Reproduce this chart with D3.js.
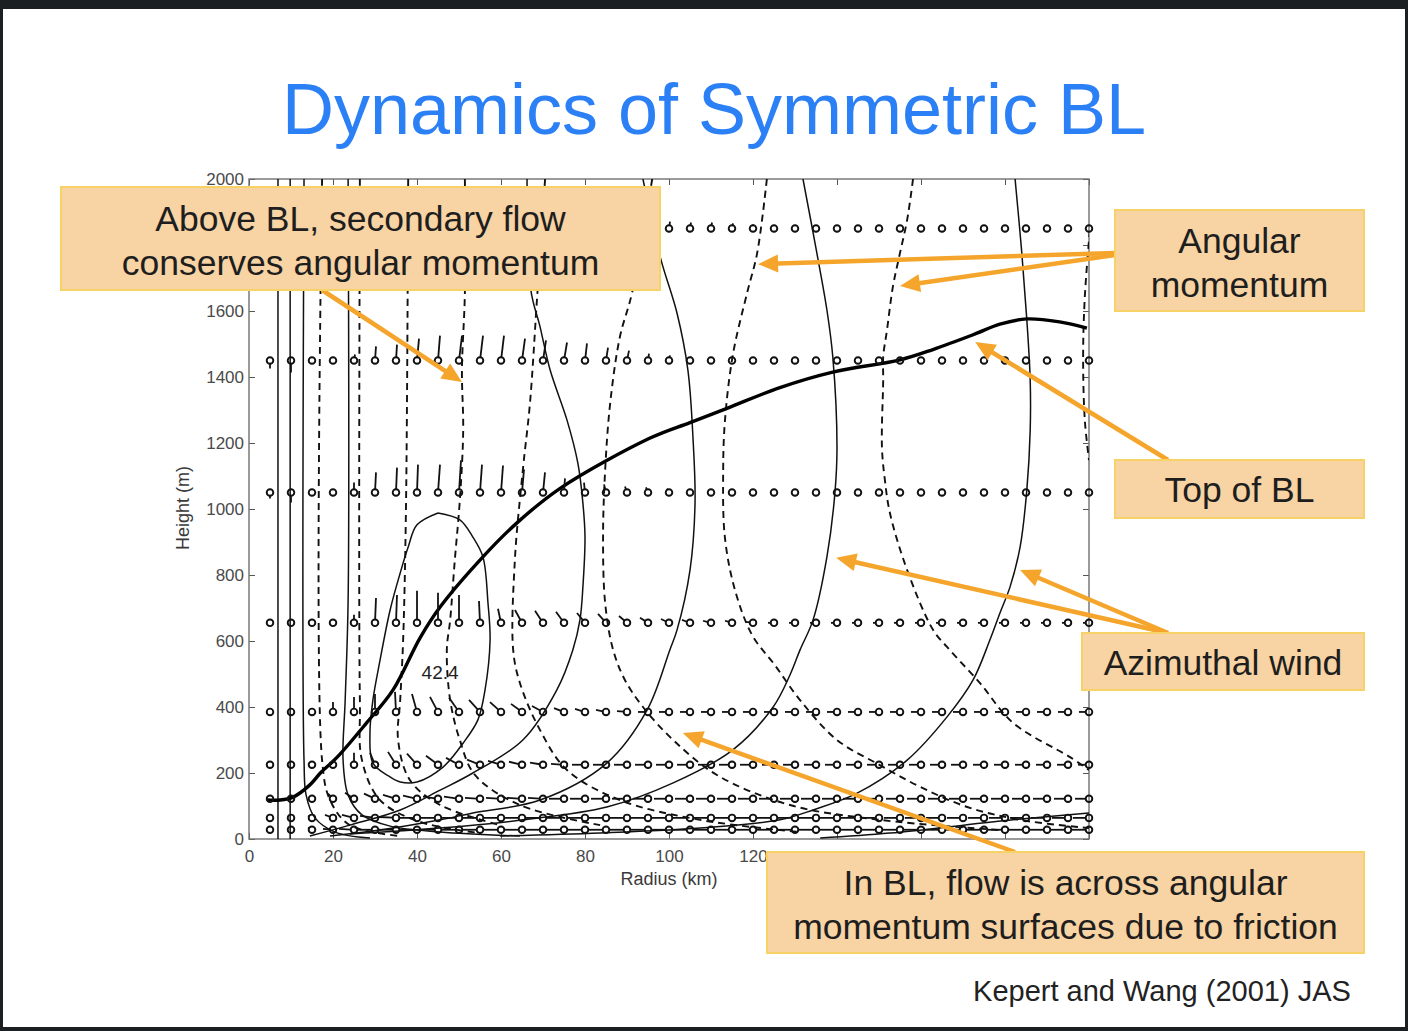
<!DOCTYPE html>
<html>
<head>
<meta charset="utf-8">
<script src="https://cdn.jsdelivr.net/npm/d3@7"></script>
<style>
  html, body { margin: 0; padding: 0; background: #1c1f22; }
  svg { display: block; }
</style>
</head>
<body>
<svg id="slide" width="1408" height="1031"></svg>
<script>
// axis ticks (labels hidden under the callout boxes are left out)
const xTicks = [0, 20, 40, 60, 80, 100, 120, 140, 160, 180, 200];
const xTickLabels = [0, 20, 40, 60, 80, 100, 120];
const yTicks = [0, 200, 400, 600, 800, 1000, 1200, 1400, 1600, 1800, 2000];
const yTickLabels = [0, 200, 400, 600, 800, 1000, 1200, 1400, 1600, 2000];

// vector grid: radius (km) and level heights (m)
const radii = [5, 10, 15, 20, 25, 30, 35, 40, 45, 50,
  55, 60, 65, 70, 75, 80, 85, 90, 95, 100,
  105, 110, 115, 120, 125, 130, 135, 140, 145, 150,
  155, 160, 165, 170, 175, 180, 185, 190, 195, 200];
const levels = [1850, 1450, 1050, 655, 385, 225, 122, 64, 28];

// radial wind u (m/s) per level
const u1850 = [0, 0, 0, 0, 1, 1, 1, 1, 1, 1, 1, 1, 1, 1, 1, 1, 1, 1, 1, 1, 1, 1, 1, 0, 0, 0, 0, 0, 0, 0, 0, 0, 0, 0, 0, 0, 0, 0, 0, 0];
const u1450 = [0, 0, 0, 0, 1, 1, 1, 2, 2, 3, 3, 3, 3, 3, 3, 2, 2, 2, 1, 1, 1, 0, 0, 0, 0, 0, 0, 0, 0, 0, 0, 0, 0, 0, 0, 0, 0, 0, 0, 0];
const u1050 = [0, 0, 0, 0, 0, 1, 1, 1, 2, 2, 2, 2, 2, 2, 1, -1, -2, -2, -2, -2, -1, 0, 0, 0, 0, 0, 0, 0, 0, 0, 0, 0, 0, 0, 0, 0, 0, 0, 0, 0];
const u655 = [0, 0, 2, 0, 0, 1, 1, 0, 0, 0, -1, -3, -7, -8, -8, -8, -8, -8, -8, -8, -8, -8, -7, -7, -6, -6, -6, -6, -6, -6, -6, -6, -6, -6, -6, -6, -6, -6, -6, -6];
const u385 = [0, 0, 0, 0, 0, 0, -1, -5, -8, -10, -11, -11, -11, -11, -10, -10, -10, -10, -10, -10, -10, -10, -10, -10, -10, -10, -10, -10, -10, -10, -10, -10, -10, -10, -10, -10, -10, -10, -10, -10];
const u225 = [0, 0, 0, 0, 0, -5, -8, -10, -12, -13, -13, -13, -13, -13, -13, -13, -13, -13, -13, -13, -13, -13, -13, -13, -12, -12, -12, -12, -12, -12, -12, -12, -12, -12, -11, -11, -11, -11, -11, -11];
const u122 = [0, 0, -2, -5, -9, -11, -13, -14, -15, -15, -15, -15, -15, -15, -15, -15, -15, -15, -15, -15, -15, -15, -15, -15, -15, -15, -15, -15, -15, -15, -14, -14, -14, -14, -14, -14, -14, -14, -14, -14];
const u64 = [0, -1, -4, -8, -12, -15, -17, -17, -17, -17, -17, -17, -17, -17, -17, -17, -17, -17, -17, -17, -17, -17, -17, -17, -17, -17, -17, -17, -17, -17, -16, -16, -16, -16, -16, -16, -16, -16, -16, -16];
const u28 = [0, 0, -4, -10, -15, -18, -18, -18, -18, -18, -18, -18, -18, -18, -18, -18, -18, -18, -18, -18, -18, -18, -18, -18, -18, -18, -18, -18, -18, -18, -17, -17, -17, -17, -17, -17, -17, -17, -17, -17];

// vertical wind w (cm/s) per level
const w1850 = [-20, -27, -7, 0, 17, 33, 40, 47, 50, 50, 50, 47, 43, 40, 37, 33, 30, 27, 23, 23, 20, 20, 17, 13, 7, 3, 0, 0, 0, 0, 0, 0, 0, 0, 0, 0, 0, 0, 0, 0];
const w1450 = [-27, -40, -10, 0, 20, 47, 53, 73, 83, 83, 83, 83, 73, 67, 60, 57, 43, 33, 23, 17, 13, 10, 7, 3, 0, 0, 0, 0, 0, 0, 0, 0, 0, 0, 0, 0, 0, 0, 0, 0];
const w1050 = [-20, -33, 0, 10, 33, 67, 83, 93, 93, 107, 93, 90, 77, 67, 47, 33, 27, 20, 17, 13, 10, 7, 3, 0, 0, 0, 0, 0, 0, 0, 0, 0, 0, 0, 0, 0, 0, 0, 0, 0];
const w655 = [0, 0, 0, 13, 27, 83, 93, 107, 100, 93, 73, 47, 43, 40, 37, 33, 30, 23, 17, 13, 10, 7, 7, 3, 0, 0, 0, 0, 0, 0, 0, 0, 0, 0, 0, 0, 0, 0, 0, 0];
const w385 = [0, 0, 10, 33, 50, 60, 67, 60, 50, 47, 40, 33, 27, 20, 13, 10, 7, 3, 0, 0, 0, 0, 0, 0, 0, 0, 0, 0, 0, 0, 0, 0, 0, 0, 0, 0, 0, 0, 0, 0];
const w225 = [0, 0, 10, 17, 40, 40, 43, 37, 30, 23, 17, 13, 10, 7, 3, 0, 0, 0, 0, 0, 0, 0, 0, 0, 0, 0, 0, 0, 0, 0, 0, 0, 0, 0, 0, 0, 0, 0, 0, 0];
const w122 = [0, 0, 10, 17, 20, 17, 13, 10, 7, 7, 3, 3, 3, 3, 0, 0, 0, 0, 0, 0, 0, 0, 0, 0, 0, 0, 0, 0, 0, 0, 0, 0, 0, 0, 0, 0, 0, 0, 0, 0];
const w64 = [0, 0, 7, 10, 10, 7, 3, 0, 0, 0, 0, 0, 0, 0, 0, 0, 0, 0, 0, 0, 0, 0, 0, 0, 0, 0, 0, 0, 0, 0, 0, 0, 0, 0, 0, 0, 0, 0, 0, 0];
const w28 = [0, 10, 7, 3, 3, 0, 0, 0, 0, 0, 0, 0, 0, 0, 0, 0, 0, 0, 0, 0, 0, 0, 0, 0, 0, 0, 0, 0, 0, 0, 0, 0, 0, 0, 0, 0, 0, 0, 0, 0];

const uRows = [u1850, u1450, u1050, u655, u385, u225, u122, u64, u28];
const wRows = [w1850, w1450, w1050, w655, w385, w225, w122, w64, w28];

// top of boundary layer [radius km, height m]
const blTop = [[4.3, 118], [7.4, 118], [10.5, 127], [14.5, 164], [17, 200], [21, 248], [28, 352], [34.3, 452],
  [40.7, 609], [45.5, 703], [55.7, 855], [63.8, 958], [74, 1062], [95.5, 1215],
  [105, 1262], [113.8, 1305], [126.4, 1368], [139, 1415], [155, 1452], [163, 1484], [172.4, 1528],
  [178.8, 1560], [185.2, 1576], [193, 1567], [199.5, 1548]];

// azimuthal wind contours (solid)
const vMax = [[45, 988], [50.2, 967], [53.3, 915], [55.7, 855], [56.9, 715], [57.4, 603], [56.2, 452], [54.5, 361],
  [51, 291], [46.2, 218], [40, 173], [36, 173], [33.6, 188], [29.5, 230], [28.8, 321], [29.5, 421], [31.2, 542],
  [33.6, 694], [36, 806], [37.9, 885], [40, 952], [45, 988]];
const vMaxLabel = { r: 45.5, h: 506, text: "42.4" };
const v1 = [[6.9, 0], [6.9, 2000]];
const v2 = [[9.8, 0], [9.8, 2000]];
const v3 = [[13.1, 2000], [13.1, 239], [13.6, 133], [15.7, 64], [20.5, 21], [28.8, 3]];
const v4 = [[23.6, 2000], [23.6, 724], [22.9, 421], [22.4, 239], [23.6, 133], [26.9, 73], [33.6, 39], [45.5, 21], [64.5, 9]];
const v5 = [[66.2, 2000], [67.1, 1664], [69.3, 1552], [71.7, 1421], [75.7, 1270], [78.3, 1139], [79.5, 1018], [80, 915],
  [79.5, 764], [78.8, 664], [77.1, 573], [73.3, 452], [65.2, 300], [53.3, 200], [45.5, 148], [36, 88], [24, 42], [14.5, 9]];
const v6 = [[93.8, 2000], [97.9, 1764], [101.9, 1594], [104.5, 1421], [105.7, 1218], [106.2, 1018], [105, 815],
  [101.9, 633], [100.2, 573], [94.8, 391], [85.2, 230], [69.3, 118], [53.3, 79], [45.5, 58], [31.2, 27], [19.3, 9]];
const v7 = [[131.9, 2000], [135.2, 1776], [137.6, 1603], [139, 1461], [140, 1188], [139.5, 1048], [137.6, 855],
  [134.3, 664], [131.2, 573], [128.8, 497], [124.8, 400], [115.2, 270], [101, 170], [85.2, 97], [65.2, 58], [45.5, 33], [24, 15]];
const v8 = [[182.4, 2000], [184, 1776], [185.2, 1573], [186, 1391], [186, 1239], [185.2, 1058], [183.6, 885],
  [181.2, 764], [178.8, 685], [176.4, 603], [172.4, 482], [166.2, 370], [156.7, 239], [144.8, 139], [134.3, 88],
  [126.4, 58], [107.4, 33], [83.6, 18], [59.8, 9]];
const v9 = [[136, 3], [152.6, 18], [181.9, 58], [200, 79]];
const windContours = [v1, v2, v3, v4, v5, v6, v7, v8, v9, vMax];

// angular momentum contours (dashed)
const m1 = [[17.4, 2000], [17.4, 239], [19.3, 118], [24, 42], [36, 9]];
const m2 = [[26.4, 2000], [26.4, 421], [26.9, 239], [31.2, 118], [40.7, 52], [55, 18]];
const m3 = [[37.9, 2000], [37.4, 1027], [36.7, 603], [36, 421], [35.5, 300], [38.3, 179], [45.5, 103], [59.8, 42]];
const m4 = [[51.4, 2000], [51.4, 1655], [50.7, 1421], [51, 1239], [50.2, 1027], [49, 845], [47.9, 664], [47.1, 573],
  [47.9, 421], [50.2, 300], [53.8, 194], [64.5, 103], [83.6, 42]];
const m5 = [[70.5, 2000], [68.6, 1642], [66.9, 1321], [65.2, 1118], [63.3, 845], [62.9, 573], [64.5, 473], [69.3, 330],
  [75.7, 209], [88.3, 118], [107.4, 58], [131.2, 21]];
const m6 = [[96, 2000], [91.2, 1655], [88.3, 1521], [86, 1321], [84.8, 1118], [84.3, 915], [84.8, 715], [86.7, 573],
  [89.5, 482], [93.8, 400], [101, 300], [111.4, 194], [128.8, 103], [150.2, 58], [178.8, 27]];
const m7 = [[123.3, 2000], [121, 1776], [118.6, 1655], [115.2, 1467], [113.3, 1264], [112.9, 1118], [113.3, 915],
  [115.7, 755], [119.8, 618], [125.2, 527], [131.2, 421], [140, 300], [150.2, 224], [159.8, 158], [171, 97], [183.6, 58], [200, 33]];
const m8 = [[158.1, 2000], [156.7, 1876], [155, 1776], [153.3, 1673], [151.9, 1542], [151, 1461], [151, 1391],
  [150.7, 1188], [151.4, 1088], [152.6, 988], [156.7, 815], [162.9, 633], [166.2, 582], [174, 473], [181.9, 352],
  [195.5, 248], [200, 209]];
const m9 = [[200.2, 1845], [199, 1642], [198.6, 1461], [199, 1270], [200, 1148]];
const momentumContours = [m1, m2, m3, m4, m5, m6, m7, m8, m9];

// callouts
const callouts = [
  { x: 61, y: 187, w: 599, h: 103, lines: ["Above BL, secondary flow", "conserves angular momentum"] },
  { x: 1115, y: 210, w: 249, h: 101, lines: ["Angular", "momentum"] },
  { x: 1115, y: 460, w: 249, h: 58, lines: ["Top of BL"] },
  { x: 1082, y: 633, w: 282, h: 57, lines: ["Azimuthal wind"] },
  { x: 767, y: 852, w: 597, h: 101, lines: ["In BL, flow is across angular", "momentum surfaces due to friction"] }
];
// arrow tails (px on box edges) and tips (radius km, height m)
const arrowTails = [[322, 290], [1115, 253], [1115, 255], [1168, 460], [1168, 633], [1168, 633], [1015, 852]];
const arrowTips = [[50.7, 1385], [121.2, 1742], [155, 1676], [172.9, 1506], [139.8, 852], [183.6, 815], [103.3, 321]];

const FONT = "'Liberation Sans', Arial, Helvetica, sans-serif";
const svg = d3.select("#slide").attr("font-family", FONT);

// slide background
svg.append("rect").attr("x", 3).attr("y", 9).attr("width", 1402).attr("height", 1018).attr("fill", "#ffffff");

// title
svg.append("text")
  .attr("x", 714).attr("y", 134)
  .attr("text-anchor", "middle")
  .attr("font-size", 72)
  .attr("fill", "#2c80f6")
  .text("Dynamics of Symmetric BL");

var x = d3.scaleLinear().domain([0, 200]).range([249, 1089]);
var y = d3.scaleLinear().domain([0, 2000]).range([839, 179]);

svg.append("clipPath").attr("id", "plotclip")
  .append("rect").attr("x", 249).attr("y", 179).attr("width", 840).attr("height", 660);

// axes, ticks pointing inward
function styleAxis(g) {
  g.attr("font-family", FONT);
  g.select(".domain").remove();
  g.selectAll(".tick line").attr("stroke", "#555").attr("stroke-width", 1);
  g.selectAll(".tick text").attr("fill", "#4a4a4a").attr("font-size", 17);
}
var fmtX = d => xTickLabels.includes(d) ? String(d) : "";
var fmtY = d => yTickLabels.includes(d) ? String(d) : "";
svg.append("g").attr("transform", "translate(249,0)")
  .call(d3.axisLeft(y).tickValues(yTicks).tickFormat(fmtY).tickSize(-6).tickPadding(5)).call(styleAxis);
svg.append("g").attr("transform", "translate(1089,0)")
  .call(d3.axisRight(y).tickValues(yTicks).tickSize(-6).tickFormat("")).call(styleAxis);
svg.append("g").attr("transform", "translate(0,839)")
  .call(d3.axisBottom(x).tickValues(xTicks).tickFormat(fmtX).tickSize(-6).tickPadding(11)).call(styleAxis);
svg.append("g").attr("transform", "translate(0,179)")
  .call(d3.axisTop(x).tickValues(xTicks).tickSize(-6).tickFormat("")).call(styleAxis);

svg.append("rect").attr("x", 249).attr("y", 179).attr("width", 840).attr("height", 660)
  .attr("fill", "none").attr("stroke", "#707070").attr("stroke-width", 1.4);

svg.append("text").attr("x", 669).attr("y", 885).attr("text-anchor", "middle")
  .attr("font-size", 18).attr("fill", "#3a3a3a").text("Radius (km)");
svg.append("text").attr("transform", "translate(189,508) rotate(-90)").attr("text-anchor", "middle")
  .attr("font-size", 18).attr("fill", "#3a3a3a").text("Height (m)");

// contours
var line = d3.line().x(d => x(d[0])).y(d => y(d[1])).curve(d3.curveCatmullRom.alpha(0.5));
var plot = svg.append("g").attr("clip-path", "url(#plotclip)");

plot.selectAll("path.mom").data(momentumContours).join("path")
  .attr("class", "mom").attr("d", line)
  .attr("fill", "none").attr("stroke", "#111").attr("stroke-width", 1.9)
  .attr("stroke-dasharray", "7,5");

plot.selectAll("path.wind").data(windContours).join("path")
  .attr("class", "wind").attr("d", line)
  .attr("fill", "none").attr("stroke", "#111").attr("stroke-width", 1.5);

plot.append("path").datum(blTop).attr("d", line)
  .attr("fill", "none").attr("stroke", "#000").attr("stroke-width", 3.4);

svg.append("text").attr("x", x(vMaxLabel.r)).attr("y", y(vMaxLabel.h) + 7)
  .attr("text-anchor", "middle").attr("font-size", 19).attr("fill", "#222").text(vMaxLabel.text);

// wind vectors: circle at grid point, stick in flow direction
var uPx = 1.0, wPx = 0.3;
var vec = svg.append("g").attr("stroke", "#111").attr("fill", "none");
levels.forEach((h, i) => {
  radii.forEach((r, j) => {
    var cx = x(r), cy = y(h);
    var dx = uRows[i][j] * uPx, dy = -wRows[i][j] * wPx;
    var len = Math.hypot(dx, dy);
    if (len > 3.5) {
      vec.append("line")
        .attr("x1", cx + dx / len * 3.2).attr("y1", cy + dy / len * 3.2)
        .attr("x2", cx + dx).attr("y2", cy + dy)
        .attr("stroke-width", 1.8);
    }
    vec.append("circle").attr("cx", cx).attr("cy", cy).attr("r", 3.3).attr("stroke-width", 1.9);
  });
});

// arrows
var ORANGE = "#f5a52b";
var arrows = svg.append("g");
arrowTails.forEach((t, i) => {
  var tx = x(arrowTips[i][0]), ty = y(arrowTips[i][1]);
  var ang = Math.atan2(ty - t[1], tx - t[0]);
  var L = 20, W = 9;
  var bx = tx - L * Math.cos(ang), by = ty - L * Math.sin(ang);
  arrows.append("line").attr("x1", t[0]).attr("y1", t[1])
    .attr("x2", tx - 12 * Math.cos(ang)).attr("y2", ty - 12 * Math.sin(ang))
    .attr("stroke", ORANGE).attr("stroke-width", 4.5);
  arrows.append("path")
    .attr("d", `M${tx},${ty}L${bx - W * Math.sin(ang)},${by + W * Math.cos(ang)}L${bx + W * Math.sin(ang)},${by - W * Math.cos(ang)}Z`)
    .attr("fill", ORANGE);
});

// callout boxes
callouts.forEach(c => {
  var g = svg.append("g");
  g.append("rect").attr("x", c.x).attr("y", c.y).attr("width", c.w).attr("height", c.h)
    .attr("fill", "#f8d3a3").attr("stroke", "#f6d267").attr("stroke-width", 2);
  var cy = c.y + c.h / 2;
  var base = c.lines.length === 1 ? [cy + 13] : [cy - 8, cy + 36];
  c.lines.forEach((s, k) => {
    g.append("text").attr("x", c.x + c.w / 2).attr("y", base[k])
      .attr("text-anchor", "middle").attr("font-size", 35.5).attr("fill", "#1e1e1e").text(s);
  });
});

svg.append("text").attr("x", 1162).attr("y", 1001).attr("text-anchor", "middle")
  .attr("font-size", 29).attr("fill", "#222").text("Kepert and Wang (2001) JAS");
</script>
</body>
</html>
